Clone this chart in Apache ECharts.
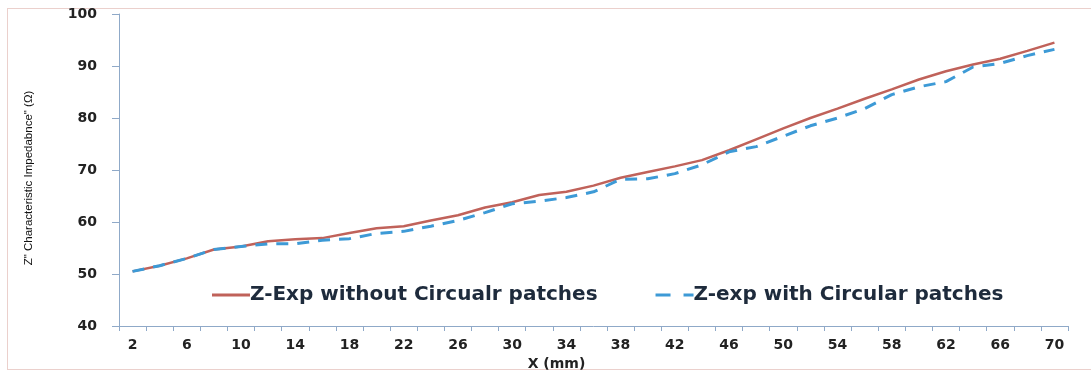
<!DOCTYPE html>
<html>
<head>
<meta charset="utf-8">
<script src="https://cdn.jsdelivr.net/npm/echarts@6/dist/echarts.min.js"></script>
<style>
  html, body { margin: 0; padding: 0; background: #fff; }
  #frame { position: absolute; left: 7px; top: 8px; width: 1090px; height: 362px; border: 1px solid #ebd0cc; box-sizing: border-box; }
  #chart { position: absolute; left: 0; top: 0; width: 1091px; height: 379px; }
</style>
</head>
<body>
<div id="frame"></div>
<div id="chart"></div>
<script>
// Distance along the taper, in mm
const positions = ['2','4','6','8','10','12','14','16','18','20','22','24','26','28','30','32','34','36','38','40','42','44','46','48','50','52','54','56','58','60','62','64','66','68','70'];

// Impedance without the circular patches (Ω)
const zWithout = [50.5, 51.6, 53.0, 54.7, 55.3, 56.3, 56.7, 56.9, 57.9, 58.8, 59.2, 60.3, 61.3, 62.8, 63.8, 65.2, 65.8, 67.0, 68.5, 69.6, 70.7, 71.9, 73.8, 75.9, 78.0, 80.0, 81.8, 83.7, 85.5, 87.4, 89.0, 90.3, 91.4, 92.9, 94.5];

// Impedance with the circular patches (Ω)
const zWith = [50.5, 51.6, 53.0, 54.7, 55.3, 55.8, 55.8, 56.5, 56.8, 57.8, 58.2, 59.2, 60.3, 61.8, 63.5, 64.0, 64.7, 65.8, 68.2, 68.3, 69.3, 71.0, 73.5, 74.5, 76.5, 78.5, 80.0, 81.8, 84.5, 86.0, 87.0, 89.8, 90.5, 92.0, 93.2];

const yTicks = [40, 50, 60, 70, 80, 90, 100];

const seriesNames = ['Z-Exp without Circualr patches', 'Z-exp with Circular patches'];

const chart = echarts.init(document.getElementById('chart'));
const axisColor = '#8fa9c8';
const red = '#c0625a';
const blue = '#3d9ad6';
chart.setOption({
  animation: false,
  backgroundColor: 'transparent',
  grid: { left: 119, right: 23, top: 14, bottom: 53, containLabel: false },
  legend: {
    left: 207, top: 280,
    itemWidth: 38, itemHeight: 3, itemGap: 58,
    textStyle: { fontFamily: 'DejaVu Sans', fontWeight: 'bold', fontSize: 20, color: '#1e2b3c', padding: [0, 0, 0, -5] },
    data: [
      { name: seriesNames[0], icon: 'rect', itemStyle: { color: red } },
      { name: seriesNames[1], icon: 'path://M0,0 L15,0 L15,3 L0,3 Z M28,0 L38,0 L38,3 L28,3 Z', itemStyle: { color: blue } }
    ]
  },
  xAxis: {
    type: 'category',
    data: positions,
    boundaryGap: true,
    name: 'X (mm)',
    nameLocation: 'middle',
    nameGap: 30,
    nameTextStyle: { fontFamily: 'DejaVu Sans', fontWeight: 'bold', fontSize: 14, color: '#222', padding: [0, 74, 0, 0] },
    axisLine: { lineStyle: { color: axisColor, width: 1 } },
    axisTick: { show: true, alignWithLabel: false, interval: 0, length: 5, lineStyle: { color: axisColor } },
    axisLabel: { interval: 1, margin: 12, fontFamily: 'DejaVu Sans', fontWeight: 'bold', fontSize: 14, color: '#222' },
    splitLine: { show: false }
  },
  yAxis: {
    type: 'value',
    min: yTicks[0], max: yTicks[yTicks.length - 1], interval: 10,
    name: 'Z" Characteristic Impedabnce" (Ω)',
    nameLocation: 'middle',
    nameGap: 84,
    nameRotate: 90,
    nameTextStyle: { fontFamily: 'Liberation Sans', fontSize: 11.5, color: '#111', padding: [0, 16, 0, 0] },
    axisLine: { show: true, lineStyle: { color: axisColor, width: 1 } },
    axisTick: { show: true, inside: false, length: 7, lineStyle: { color: axisColor } },
    axisLabel: { margin: 22, fontFamily: 'DejaVu Sans', fontWeight: 'bold', fontSize: 14, color: '#222' },
    splitLine: { show: false }
  },
  series: [
    {
      name: seriesNames[0], type: 'line', data: zWithout,
      symbol: 'none', smooth: false,
      lineStyle: { color: red, width: 2.5 },
      itemStyle: { color: red }, z: 2
    },
    {
      name: seriesNames[1], type: 'line', data: zWith,
      symbol: 'none', smooth: false,
      lineStyle: { color: blue, width: 3, type: [12, 9] },
      itemStyle: { color: blue }, z: 3
    }
  ]
});
</script>
</body>
</html>
